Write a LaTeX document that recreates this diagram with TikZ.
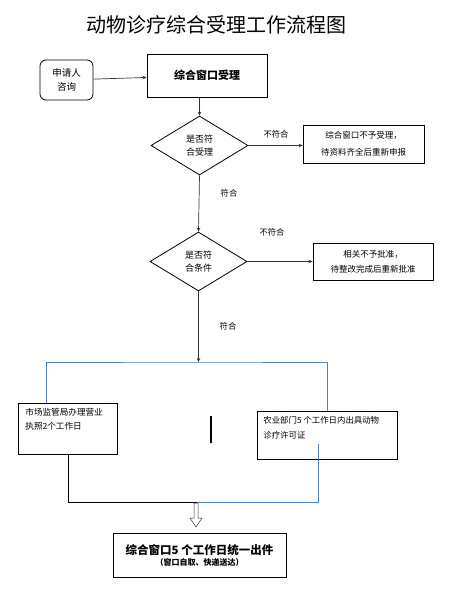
\documentclass[tikz,border=0pt]{standalone}
\usepackage{fontspec}
\setmainfont{Noto Sans CJK SC}
\usetikzlibrary{shapes.geometric,arrows.meta}
\definecolor{linkblue}{RGB}{84,130,185}
\begin{document}
\begin{tikzpicture}[x=1pt, y=-1pt, >={Stealth[length=4pt,width=3.5pt]},
    box/.style={draw, line width=0.8pt, align=center, inner sep=0pt},
    choice/.style={diamond, draw, line width=0.8pt, align=center, inner sep=0pt, minimum width=97pt, minimum height=59pt, font=\fontsize{9}{13}\selectfont},
    small/.style={font=\fontsize{8.3}{15}\selectfont},
    flow/.style={line width=0.7pt, draw=black!80}]
    \useasboundingbox (0,0) rectangle (459,604);
    % title
    \node (title) at (216,25) {\fontsize{20}{24}\selectfont 动物诊疗综合受理工作流程图};
    % top part
    \node[box, rounded corners=6pt, minimum width=53pt, minimum height=40pt, font=\fontsize{9.5}{14}\selectfont] (ask) at (66.5,80) {申请人\\咨询};
    \node[box, minimum width=120pt, minimum height=43pt, font=\fontsize{11}{13}\selectfont\bfseries] (accept) at (207,75.5) {综合窗口受理};
    \node[choice] (check1) at (199.5,145.5) {是否符\\合受理};
    \node[box, minimum width=121pt, minimum height=38pt, font=\fontsize{8.5}{17}\selectfont] (reject1) at (363.5,144) {综合窗口不予受理，\\待资料齐全后重新申报};
    \node[choice] (check2) at (198.5,261.5) {是否符\\合条件};
    \node[box, minimum width=120pt, minimum height=37pt, font=\fontsize{8.5}{15}\selectfont] (reject2) at (373,261.5) {相关不予批准，\\待整改完成后重新批准};
    \node[small] (no1) at (276,134) {不符合};
    \node[small] (yes1) at (229,193) {符合};
    \node[small] (no2) at (272,232) {不符合};
    \node[small] (yes2) at (228,326) {符合};
    \draw[flow, ->] (ask) -- (accept);
    \draw[flow, ->] (accept.south -| check1.north) -- (check1.north);
    \draw[flow, ->] (check1.east) -- (reject1.west |- check1.east);
    \draw[flow, ->] (check1.south) -- (check2.north);
    \draw[flow, ->] (check2.east) -- (reject2.west |- check2.east);
    % two departments
    \coordinate (split) at (198.5,362);
    \node[box, anchor=north west, inner xsep=7pt, inner ysep=5pt, font=\fontsize{8.6}{14}\selectfont] (market) at (18,403)
        {\parbox[c][41pt][t]{85pt}{市场监管局办理营业\\执照2个工作日}};
    \node[box, anchor=north west, inner xsep=6pt, inner ysep=5pt, font=\fontsize{8.4}{15}\selectfont] (farm) at (257,411)
        {\parbox[c][38pt][t]{128pt}{农业部门5 个工作日内出具动物\\诊疗许可证}};
    \draw[flow, ->] (check2.south) -- (split);
    \draw[line width=0.7pt, linkblue] (market.north -| 46,0) |- (split) -| (farm.north -| 327,0);
    \draw[line width=1.6pt] (211,416) -- (211,443);
    % merge and output
    \coordinate (joinL) at (209,502);
    \coordinate (joinR) at (197,502);
    \coordinate (farmout) at (318,444);
    \node[box, minimum width=173pt, minimum height=44pt] (issue) at (199.5,555)
        {{\fontsize{11.5}{14}\selectfont\bfseries 综合窗口5 个工作日统一出件}\\[-1pt]{\fontsize{8}{10}\selectfont\bfseries （窗口自取、快递送达）}};
    \draw[line width=0.8pt] (market.south -| 68,0) |- (joinL);
    \draw[line width=0.7pt, linkblue] (farmout) |- (joinR);
    \draw[line width=0.5pt, draw=black!80, fill=white] (194,503) -- (198,503) -- (198,518) -- (202,518) -- (196,527) -- (190,518) -- (194,518) -- cycle;
\end{tikzpicture}
\end{document}
